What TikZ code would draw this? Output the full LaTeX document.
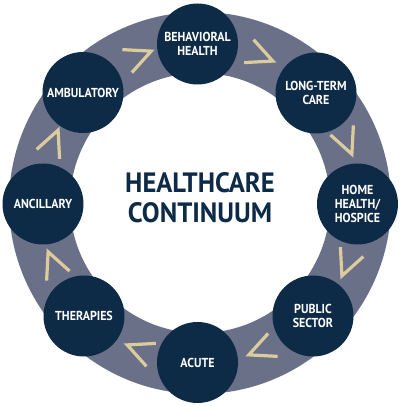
\documentclass[tikz,border=0pt]{standalone}
\usepackage{fontspec}
\newfontfamily\labelfont{PT Sans}[FakeStretch=0.92]
\newfontfamily\titlefont{PT Sans}[FakeStretch=0.95]
\definecolor{ringgray}{HTML}{6B7089}
\definecolor{navy}{HTML}{0D2A47}
\definecolor{chevcol}{HTML}{DCCB9C}
\begin{document}
\begin{tikzpicture}[x=1pt,y=1pt,
  stage/.style={circle, fill=navy, minimum size=81pt, inner sep=0pt, text=white,
    font=\labelfont\bfseries\fontsize{13}{14}\selectfont, align=center},
  chev/.style={draw=chevcol, line width=3.2pt, line join=miter},
  titletext/.style={text=navy, align=center, font=\titlefont\bfseries\fontsize{28}{30}\selectfont}]
\useasboundingbox (0,0) rectangle (400,406);
\fill[white] (0,0) rectangle (400,406);
\coordinate (c) at (200,203);
\fill[ringgray, even odd rule] (c) circle[radius=191] (c) circle[radius=130];
\begin{scope}[shift={(200,203)}]
\foreach \a in {67.5,22.5,...,-247.5}
  \draw[chev, shift={(\a:159)}, rotate=\a-90] (-13,12.4) -- (13,0) -- (-13,-12.4);
\end{scope}
\node[stage] (bh) at (197.5,362) {BEHAVIORAL\\HEALTH};
\node[stage] (ltc) at (316,313) {LONG-TERM\\CARE};
\node[stage] (hh) at (357.5,202) {HOME\\HEALTH/\\HOSPICE};
\node[stage] (ps) at (313,90) {PUBLIC\\SECTOR};
\node[stage] (ac) at (197.5,43.5) {ACUTE};
\node[stage] (th) at (84,90) {THERAPIES};
\node[stage] (an) at (43,202) {ANCILLARY};
\node[stage] (am) at (83,313.5) {AMBULATORY};
\node[titletext] (title) at (200,208.5) {HEALTHCARE\\CONTINUUM};
\end{tikzpicture}
\end{document}
